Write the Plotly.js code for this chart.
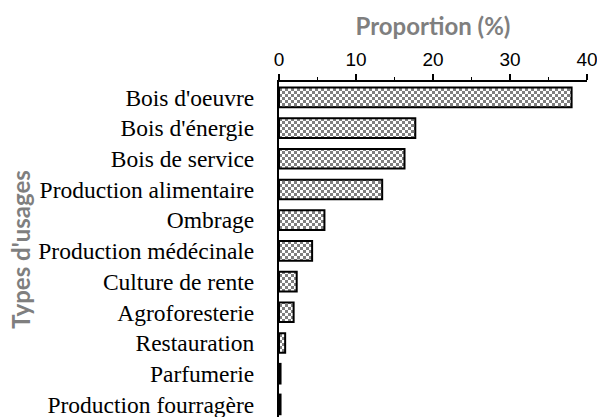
<!DOCTYPE html>
<html>
<head>
<meta charset="utf-8">
<script src="https://cdn.plot.ly/plotly-3.0.1.min.js"></script>
<style>
html,body{margin:0;padding:0;background:#fff;overflow:hidden;}
#chart{width:597px;height:417px;}
</style>
</head>
<body>
<div id="chart"></div>
<script>
const categories = [
  "Bois d'oeuvre",
  "Bois d'énergie",
  "Bois de service",
  "Production alimentaire",
  "Ombrage",
  "Production médécinale",
  "Culture de rente",
  "Agroforesterie",
  "Restauration",
  "Parfumerie",
  "Production fourragère"
];
const proportions = [38.0, 17.7, 16.3, 13.4, 5.9, 4.3, 2.3, 1.9, 0.8, 0.2, 0.2];
const xTickValues = [0, 10, 20, 30, 40];
const xTitle = "Proportion (%)";
const yTitle = "Types d'usages";

// checkerboard fill if custom pattern paths are supported, else crossed hatch
let pathSupported = false;
try {
  const schema = Plotly.PlotSchema.get();
  pathSupported = !!schema.traces.bar.attributes.marker.pattern.path;
} catch (e) { pathSupported = false; }

const pattern = pathSupported
  ? {path: 'M0,0H3V3H0Z M3,3H6V6H3Z', fgcolor: '#000000', bgcolor: '#ffffff', size: 6, fillmode: 'overlay'}
  : {shape: 'x', fgcolor: '#000000', bgcolor: '#ffffff', size: 6, solidity: 0.7, fillmode: 'overlay'};

const trace = {
  type: 'bar',
  orientation: 'h',
  x: proportions,
  y: categories,
  marker: {
    color: '#ffffff',
    line: {color: '#000000', width: 2},
    pattern: pattern
  },
  hoverinfo: 'none'
};

const layout = {
  width: 597,
  height: 417,
  margin: {l: 279, r: 10, t: 82, b: 0, pad: 0},
  paper_bgcolor: '#ffffff',
  plot_bgcolor: '#ffffff',
  showlegend: false,
  bargap: 0.36,
  xaxis: {
    side: 'top',
    range: [0, 40],
    tickvals: xTickValues,
    ticktext: xTickValues.map(String),
    showgrid: false,
    zeroline: false,
    showline: true,
    linecolor: '#000000',
    linewidth: 2,
    ticks: 'outside',
    ticklen: 6,
    tickwidth: 1.5,
    tickcolor: '#000000',
    minor: {dtick: 5, tick0: 0, ticks: 'outside', ticklen: 3, tickwidth: 1.5, tickcolor: '#000000', showgrid: false},
    ticklabelstandoff: 0,
    ticklabeloverflow: 'allow',
    tickfont: {family: 'Liberation Sans, Arial, sans-serif', size: 19, color: '#000000'},
    title: {text: xTitle, font: {family: 'Lato, sans-serif', size: 24, color: '#7f7f7f', weight: 'bold'}, standoff: 7},
    automargin: false,
    fixedrange: true
  },
  yaxis: {
    type: 'category',
    range: [10.41, -0.5],
    showgrid: false,
    zeroline: false,
    showline: true,
    linecolor: '#000000',
    linewidth: 2,
    ticks: '',
    ticklabelstandoff: 18,
    tickfont: {family: 'Liberation Serif, Times New Roman, serif', size: 23.5, color: '#000000'},
    title: {text: yTitle, font: {family: 'Lato, sans-serif', size: 24, color: '#7f7f7f', weight: 'bold'}, standoff: 1},
    automargin: false,
    fixedrange: true
  }
};

Plotly.newPlot('chart', [trace], layout, {staticPlot: true, displayModeBar: false});
</script>
</body>
</html>
